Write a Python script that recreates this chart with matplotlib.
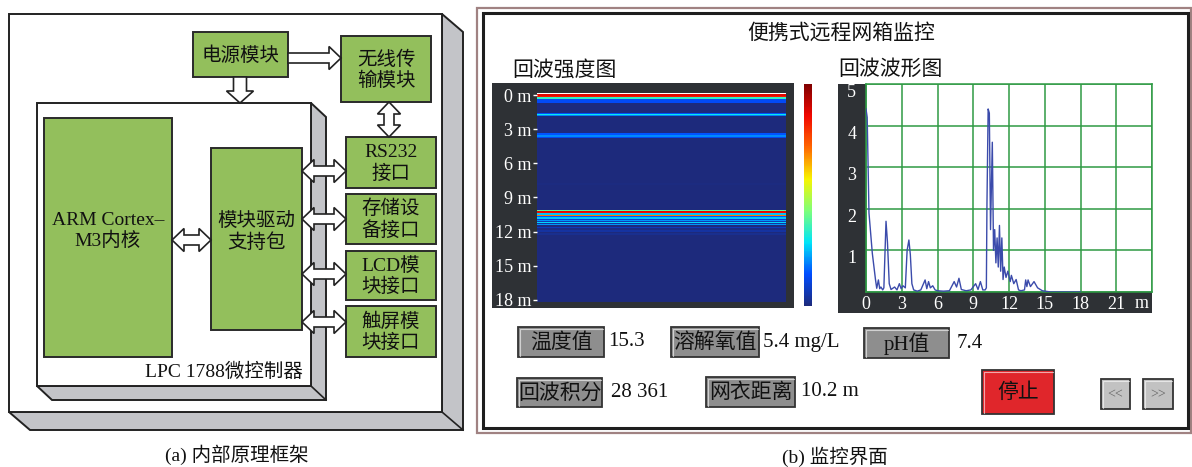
import matplotlib
matplotlib.use("Agg")
import matplotlib.pyplot as plt
import numpy as np
from matplotlib.colors import LinearSegmentedColormap
from matplotlib.patches import Rectangle, Polygon

plt.rcParams["font.family"] = ["Liberation Serif", "Noto Sans CJK SC"]

W, H = 1192, 467

# echo waveform: range (m) against echo amplitude
depth_m = [0.0, 0.1, 0.25, 0.53, 0.8, 0.9, 1.04, 1.15, 1.25, 1.4, 1.5, 1.6, 1.68,
           1.8, 1.95, 2.1, 2.4, 2.6, 2.8, 2.95, 3.1, 3.3, 3.45, 3.6, 3.72, 3.85,
           4.0, 4.3, 4.6, 4.96, 5.1, 5.25, 5.4, 5.6, 5.8, 6.0, 6.5, 7.0, 7.4, 7.6,
           7.8, 8.0, 8.4, 8.8, 9.2, 9.4, 9.6, 9.8, 10.0, 10.1, 10.15, 10.25, 10.35,
           10.45, 10.6, 10.7, 10.8, 10.9, 11.0, 11.1, 11.2, 11.3, 11.4, 11.5, 11.6,
           11.75, 11.9, 12.1, 12.2, 12.4, 12.6, 12.8, 13.0, 13.3, 13.4, 13.5, 13.6,
           13.8, 14.1, 14.4, 14.8, 15.5, 16.5, 18.0]
echo_amp = [4.4, 4.2, 1.9, 0.93, 0.29, 0.09, 0.29, 0.08, 0.12, 0.05, 0.1, 1.0, 1.7,
            1.2, 0.2, 0.06, 0.12, 0.05, 0.2, 0.08, 0.15, 0.1, 1.0, 1.25, 0.9, 0.2,
            0.05, 0.02, 0.05, 0.29, 0.08, 0.25, 0.1, 0.15, 0.05, 0.03, 0.02, 0.03,
            0.25, 0.12, 0.33, 0.06, 0.03, 0.05, 0.2, 0.06, 0.25, 0.05, 0.05, 0.1,
            2.1, 4.4, 4.3, 1.5, 3.6, 1.0, 1.5, 0.7, 1.3, 0.6, 1.6, 0.5, 1.3, 0.3,
            0.6, 0.35, 0.5, 0.25, 0.4, 0.2, 0.3, 0.05, 0.03, 0.05, 0.29, 0.13, 0.29,
            0.13, 0.25, 0.1, 0.03, 0.0, 0.0, 0.0]

depth_ticks = [0, 3, 6, 9, 12, 15, 18]
wave_xticks = [0, 3, 6, 9, 12, 15, 18, 21, 24]
wave_yticks = [0, 1, 2, 3, 4, 5]

readout_names = ["温度值", "溶解氧值", "pH值", "回波积分", "网衣距离"]
readout_values = ["15.3", "5.4 mg/L", "7.4", "28 361", "10.2 m"]

GREEN = "#93bf5c"
SHADE = "#c3c4c8"
DARK = "#2e3135"
GRID = "#2f9a44"
NAVY = "#1d2a7c"


def frac(x0, y0, x1, y1):
    return [x0 / W, 1 - y1 / H, (x1 - x0) / W, (y1 - y0) / H]


def box3d(ax, x0, y0, x1, y1, dx, dy):
    shadow = [(x1, y0), (x1 + dx, y0 + dy), (x1 + dx, y1 + dy), (x0 + dx, y1 + dy),
              (x0, y1), (x1, y1)]
    ax.add_patch(Polygon(shadow, closed=True, fc=SHADE, ec="#222", lw=1.4))
    ax.plot([x1, x1 + dx], [y1, y1 + dy], color="#222", lw=1.2)
    ax.add_patch(Rectangle((x0, y0), x1 - x0, y1 - y0, fc="white", ec="#222", lw=1.4))


def green_box(ax, x0, y0, x1, y1, text, ty=None):
    ax.add_patch(Rectangle((x0, y0), x1 - x0, y1 - y0, fc=GREEN, ec="#2a2a2a", lw=1.4))
    ty = (y0 + y1) / 2 + 1 if ty is None else ty
    ax.text((x0 + x1) / 2, ty, text, ha="center", va="center", fontsize=14,
            color="#111", linespacing=1.2)


def hollow_arrow(ax, x0, y0, x1, y1, double=False, shaft=10, head=23, hl=12):
    p0 = np.array([x0, y0], float)
    v = np.array([x1, y1], float) - p0
    L = np.hypot(*v)
    u = v / L
    n = np.array([-u[1], u[0]])
    s, h = shaft / 2, head / 2
    pts = [(hl if double else 0, -s), (L - hl, -s), (L - hl, -h), (L, 0),
           (L - hl, h), (L - hl, s), (hl if double else 0, s)]
    if double:
        pts += [(hl, h), (0, 0), (hl, -h)]
    poly = [p0 + a * u + b * n for a, b in pts]
    ax.add_patch(Polygon(poly, closed=True, fc="white", ec="#222", lw=1.2, zorder=5))


def button(ax, x0, y0, x1, y1, text, face="#8e8e8e", fs=15, color="#111"):
    ax.add_patch(Rectangle((x0, y0), x1 - x0, y1 - y0, fc=face, ec="#333", lw=1.3))
    ax.plot([x0 + 1.5, x0 + 1.5, x1 - 1.5], [y1 - 1.5, y0 + 1.5, y0 + 1.5],
            color="white", lw=0.8, alpha=0.6)
    ax.text((x0 + x1) / 2, (y0 + y1) / 2 + 1, text, ha="center", va="center",
            fontsize=fs, color=color)


fig = plt.figure(figsize=(W / 100, H / 100), dpi=100)
base = fig.add_axes([0, 0, 1, 1])
base.set_xlim(0, W)
base.set_ylim(H, 0)
base.axis("off")

# ---- (a) block diagram ----
box3d(base, 9, 14, 442, 412, 21, 18)
box3d(base, 37, 103, 311, 386, 15, 14)

green_box(base, 44, 118, 172, 357, "ARM Cortex–\nM3内核", ty=231)
green_box(base, 211, 148, 302, 330, "模块驱动\n支持包", ty=232)
green_box(base, 193, 32, 288, 77, "电源模块")
green_box(base, 341, 36, 431, 102, "无线传\n输模块")
green_box(base, 346, 137, 436, 188, "RS232\n接口")
green_box(base, 346, 194, 436, 244, "存储设\n备接口")
green_box(base, 346, 251, 436, 300, "LCD模\n块接口")
green_box(base, 346, 306, 436, 357, "触屏模\n块接口")
base.text(303, 372, "LPC 1788微控制器", ha="right", va="center", fontsize=14, color="#111")

hollow_arrow(base, 288, 58, 341, 58)
hollow_arrow(base, 240, 77, 240, 103, shaft=13, head=27)
hollow_arrow(base, 389, 102, 389, 137, double=True)
hollow_arrow(base, 172, 240, 211, 240, double=True)
for yy in [171, 219, 274, 322]:
    hollow_arrow(base, 302, yy, 346, yy, double=True)

base.text(237, 455, "(a) 内部原理框架", ha="center", va="center", fontsize=14, color="#111")

# ---- (b) monitoring screen ----
base.add_patch(Rectangle((477, 8), 714, 425, fc="white", ec="#a08282", lw=1.6))
base.add_patch(Rectangle((483, 13), 705, 415, fc="white", ec="#1e1e1e", lw=2.2))
base.text(841, 34, "便携式远程网箱监控", ha="center", va="center", fontsize=15, color="#111")
base.text(512, 71, "回波强度图", ha="left", va="center", fontsize=15, color="#111")
base.text(838, 70, "回波波形图", ha="left", va="center", fontsize=15, color="#111")

# echo intensity map: jet-like scale that starts from a navy floor
jet = plt.get_cmap("jet")
echo_cmap = LinearSegmentedColormap.from_list(
    "echo", [NAVY] + [jet(t) for t in (0.2, 0.35, 0.5, 0.65, 0.8, 0.9, 1.0)])
echo_cmap.set_under(NAVY)

base.add_patch(Rectangle((492, 83), 302, 225, fc=DARK, ec="none"))
hm = fig.add_axes(frac(537, 93, 786, 302))
amp = np.asarray(echo_amp)
mesh = hm.pcolormesh([0.25, 0.75], depth_m, np.column_stack([amp, amp]),
                     shading="nearest", cmap=echo_cmap, vmin=0.3, vmax=5)
hm.set_xlim(0, 1)
hm.set_ylim(18.18, -0.18)
hm.set_xticks([])
hm.set_yticks(depth_ticks)
hm.set_yticklabels([f"{d} m" for d in depth_ticks], fontsize=13, color="white")
hm.tick_params(axis="y", colors="white", length=3, width=1, pad=1)
for sp in hm.spines.values():
    sp.set_visible(False)

cax = fig.add_axes(frac(804, 84, 812, 306))
cb = fig.colorbar(mesh, cax=cax)
cb.outline.set_visible(False)
cb.set_ticks([])

# echo waveform
base.add_patch(Rectangle((838, 84), 314, 229, fc=DARK, ec="none"))
wv = fig.add_axes(frac(866, 84, 1152, 292))
wv.plot(depth_m, echo_amp, color="#3b4bab", lw=1.0, zorder=3)
wv.set_xlim(0, 24)
wv.set_ylim(0, 5)
wv.set_xticks(wave_xticks)
wv.set_xticklabels([str(t) for t in wave_xticks[:-1]] + [""], fontsize=13, color="white")
wv.set_yticks(wave_yticks)
wv.set_yticklabels([""] + [str(t) for t in wave_yticks[1:]], fontsize=13,
                   color="white", va="top")
wv.tick_params(length=0)
wv.tick_params(axis="x", pad=3)
wv.tick_params(axis="y", pad=7)
wv.grid(True, color=GRID, lw=1.1)
wv.set_axisbelow(True)
for sp in wv.spines.values():
    sp.set_color(GRID)
    sp.set_linewidth(1.1)
base.text(1142, 303, "m", ha="center", va="center", fontsize=13, color="white")

# readout buttons
btn_boxes = [(518, 327, 604, 357), (671, 327, 759, 357), (864, 328, 949, 358),
             (517, 378, 602, 407), (706, 377, 795, 407)]
val_x = [608, 763, 957, 611, 801]
for (x0, y0, x1, y1), name, val, vx in zip(btn_boxes, readout_names, readout_values, val_x):
    button(base, x0, y0, x1, y1, name)
    base.text(vx, (y0 + y1) / 2, val, ha="left", va="center", fontsize=15, color="#111")

button(base, 982, 370, 1054, 414, "停止", face="#e0262b")
button(base, 1101, 379, 1130, 409, "<<", face="#c2c2c2", fs=10, color="#666")
button(base, 1143, 379, 1173, 409, ">>", face="#c2c2c2", fs=10, color="#666")

base.text(835, 457, "(b) 监控界面", ha="center", va="center", fontsize=14, color="#111")

fig.savefig("out.png", dpi=100)
